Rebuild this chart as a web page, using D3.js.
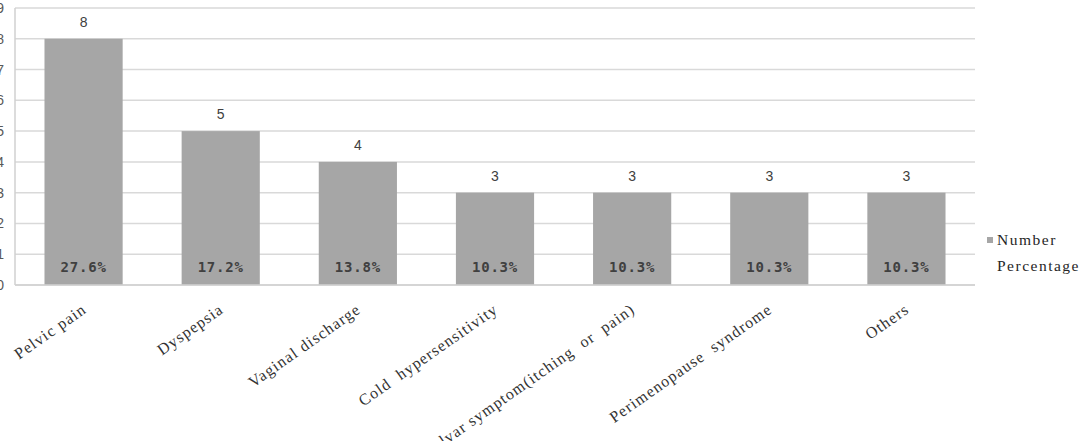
<!DOCTYPE html>
<html>
<head>
<meta charset="utf-8">
<script src="https://cdn.jsdelivr.net/npm/d3@7"></script>
<style>
  html, body { margin: 0; padding: 0; background: #fff; }
  svg { display: block; }
</style>
</head>
<body>
<div id="chart"></div>
<script>
// Chart values
const categories = ["Pelvic pain", "Dyspepsia", "Vaginal discharge", "Cold  hypersensitivity",
    "Vulvar symptom(itching  or  pain)", "Perimenopause  syndrome", "Others"];
const counts = [8, 5, 4, 3, 3, 3, 3];
const percentages = [27.6, 17.2, 13.8, 10.3, 10.3, 10.3, 10.3];
const yTicks = [0, 1, 2, 3, 4, 5, 6, 7, 8, 9];
const legendLabels = ["Number", "Percentage"];

const data = categories.map((c, i) => ({ name: c, count: counts[i], pct: percentages[i] }));

// Layout
const W = 1085, H = 441;
const plot = { left: 15, right: 975, top: 8, bottom: 285 };

const svg = d3.select("#chart")
    .append("svg")
    .attr("width", W)
    .attr("height", H);

// Scales
const x = d3.scaleBand()
    .domain(categories)
    .range([plot.left, plot.right])
    .paddingInner(0.43)
    .paddingOuter(0.215);

const y = d3.scaleLinear()
    .domain([0, 9])
    .range([plot.bottom, plot.top]);

// Gridlines
svg.append("g")
    .selectAll("line")
    .data(yTicks)
    .join("line")
    .attr("x1", plot.left)
    .attr("x2", plot.right)
    .attr("y1", d => y(d))
    .attr("y2", d => y(d))
    .attr("stroke", "#d9d9d9")
    .attr("stroke-width", 1.5);

// Left axis line
svg.append("line")
    .attr("x1", plot.left).attr("x2", plot.left)
    .attr("y1", y(9)).attr("y2", y(0))
    .attr("stroke", "#d0d0d0")
    .attr("stroke-width", 1.5);

// Y tick labels (cut off at the left edge, as in the original)
svg.append("g")
    .selectAll("text")
    .data(yTicks)
    .join("text")
    .attr("x", 4)
    .attr("y", d => y(d) + 5)
    .attr("text-anchor", "end")
    .attr("font-family", "Liberation Sans, Arial, sans-serif")
    .attr("font-size", 14)
    .attr("fill", "#595959")
    .text(d => d);

// Bars
svg.append("g")
    .selectAll("rect")
    .data(data)
    .join("rect")
    .attr("x", d => x(d.name))
    .attr("y", d => y(d.count))
    .attr("width", x.bandwidth())
    .attr("height", d => y(0) - y(d.count))
    .attr("fill", "#a6a6a6");

// Bottom axis line
svg.append("line")
    .attr("x1", plot.left).attr("x2", plot.right)
    .attr("y1", y(0)).attr("y2", y(0))
    .attr("stroke", "#d0d0d0")
    .attr("stroke-width", 1.5);

// Count labels above bars
svg.append("g")
    .selectAll("text")
    .data(data)
    .join("text")
    .attr("x", d => x(d.name) + x.bandwidth() / 2)
    .attr("y", d => y(d.count) - 12)
    .attr("text-anchor", "middle")
    .attr("font-family", "Liberation Sans, Arial, sans-serif")
    .attr("font-size", 14)
    .attr("fill", "#404040")
    .text(d => d.count);

// Percentage labels inside bars
svg.append("g")
    .selectAll("text")
    .data(data)
    .join("text")
    .attr("x", d => x(d.name) + x.bandwidth() / 2)
    .attr("y", y(0) - 13)
    .attr("text-anchor", "middle")
    .attr("font-family", "DejaVu Sans Mono, monospace")
    .attr("font-size", 14)
    .attr("font-weight", "bold")
    .attr("letter-spacing", 0.8)
    .attr("fill", "#404040")
    .text(d => d.pct.toFixed(1) + "%");

// Rotated category labels
svg.append("g")
    .selectAll("text")
    .data(data)
    .join("text")
    .attr("transform", d => `translate(${x(d.name) + x.bandwidth() / 2 - 3},${plot.bottom + 17}) rotate(-35)`)
    .attr("text-anchor", "end")
    .attr("dy", "0.75em")
    .attr("font-family", "Liberation Serif, serif")
    .attr("font-size", 16)
    .attr("letter-spacing", 1.1)
    .attr("fill", "#333")
    .style("white-space", "pre")
    .text(d => d.name);

// Legend
const legend = svg.append("g");
legend.append("rect")
    .attr("x", 987).attr("y", 237)
    .attr("width", 6).attr("height", 6)
    .attr("fill", "#a6a6a6");
legend.selectAll("text")
    .data(legendLabels)
    .join("text")
    .attr("x", 997)
    .attr("y", (d, i) => 245 + i * 26)
    .attr("font-family", "Liberation Serif, serif")
    .attr("font-size", 15.5)
    .attr("letter-spacing", 1.5)
    .attr("fill", "#262626")
    .text(d => d);
</script>
</body>
</html>
